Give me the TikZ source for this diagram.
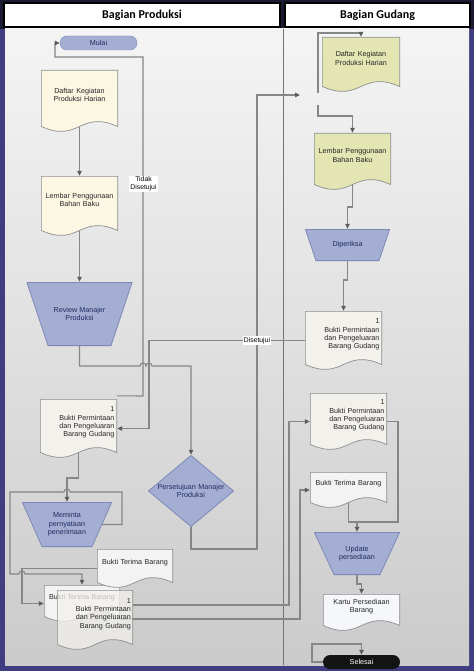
\documentclass[tikz,border=0pt]{standalone}
\usepackage{fontspec}
\setmainfont{Liberation Sans}
\newfontfamily\headfont{Carlito}
\usetikzlibrary{arrows.meta}
\pgfdeclarelayer{back}
\pgfdeclarelayer{wires}
\pgfsetlayers{back,wires,main}

\definecolor{framecol}{HTML}{403E80}
\definecolor{bandcol}{HTML}{1A1A33}
\definecolor{bodytop}{HTML}{F4F4F4}
\definecolor{bodybot}{HTML}{CBCBCB}
\definecolor{wiregray}{HTML}{868686}
\definecolor{tipgray}{HTML}{5C5C5C}
\definecolor{docline}{HTML}{8E8E8E}
\definecolor{cream}{HTML}{FBF7E3}
\definecolor{olive}{HTML}{E3E5B3}
\definecolor{paper}{HTML}{F3F1EC}
\definecolor{paperb}{HTML}{F3F3F3}
\definecolor{kartucol}{HTML}{F5F7FB}
\definecolor{trapfill}{HTML}{A4AED3}
\definecolor{trapline}{HTML}{7D88B8}
\definecolor{traptext}{HTML}{1F2B5E}

\begin{document}
\begin{tikzpicture}[x=1pt, y=-1pt,
    font=\fontsize{7.2}{8.4}\selectfont,
    >={Triangle[length=5pt,width=4.6pt,color=tipgray]},
    wire/.style={draw=wiregray, line width=1.1pt},
    lane/.style={rectangle, draw=black, line width=1.2pt, fill=white,
      minimum height=24pt, font=\headfont\fontsize{12}{14}\selectfont\bfseries},
    term/.style={rectangle, rounded corners=7pt, minimum width=77pt,
      minimum height=14pt, inner sep=0pt},
    tag/.style={fill=white, inner sep=1pt, align=center,
      font=\fontsize{6.8}{7.8}\selectfont},
    doc/.style={rectangle, inner sep=0pt, text width=70pt, align=center,
      text=black!85,
      execute at end node={\endgraf\nointerlineskip\rule{0pt}{12pt}},
      path picture={
        \filldraw[fill=#1, draw=docline, line width=.7pt]
          ([shift={(.35pt,-.35pt)}]path picture bounding box.north west)
          -- ([shift={(-.35pt,-.35pt)}]path picture bounding box.north east)
          -- ([shift={(-.35pt,5.5pt)}]path picture bounding box.south east)
          .. controls ([yshift=22.5pt]path picture bounding box.south)
          and ([yshift=-11.5pt]path picture bounding box.south)
          .. ([shift={(.35pt,5.5pt)}]path picture bounding box.south west)
          -- cycle;}},
    trap/.style={rectangle, inner sep=0pt, align=center, text=traptext,
      path picture={
        \filldraw[fill=trapfill, draw=trapline, line width=.8pt]
          ([shift={(.4pt,-.4pt)}]path picture bounding box.north west)
          -- ([shift={(-.4pt,-.4pt)}]path picture bounding box.north east)
          -- ([shift={(-#1,.4pt)}]path picture bounding box.south east)
          -- ([shift={(#1,.4pt)}]path picture bounding box.south west)
          -- cycle;}},
    dia/.style={rectangle, inner sep=0pt, text width=84pt, align=center,
      text=traptext,
      path picture={
        \filldraw[fill=trapfill, draw=trapline, line width=.8pt]
          ([yshift=-.5pt]path picture bounding box.north)
          -- ([xshift=-.5pt]path picture bounding box.east)
          -- ([yshift=.5pt]path picture bounding box.south)
          -- ([xshift=.5pt]path picture bounding box.west)
          -- cycle;}}]
    \useasboundingbox (0,0) rectangle (474,671);

    % Frame, swimlanes
    \begin{pgfonlayer}{back}
      \fill[framecol] (0,0) rectangle (474,671);
      \fill[bandcol] (0,0) rectangle (474,29);
      \shade[top color=bodytop, bottom color=bodybot] (5,29) rectangle (469,665);
      \draw[black!55, line width=.8pt] (283,29) -- (283,665);
    \end{pgfonlayer}
    \node[lane, minimum width=276pt] (prod) at (142,15) {Bagian Produksi};
    \node[lane, minimum width=185pt] (gud) at (377.5,15) {Bagian Gudang};

    % Bagian Produksi
    \node[term,
          fill=trapfill,
          draw=trapline,
          text=traptext] (mulai) at (98.5,43) {Mulai};
    \node[doc=cream,
          minimum width=77pt,
          minimum height=62pt] (daftarP) at (79.5,101) {Daftar Kegiatan\\Produksi Harian};
    \node[doc=cream,
          minimum width=77pt,
          minimum height=60pt] (lembarP) at (79.5,206) {Lembar Penggunaan\\Bahan Baku};
    \node[trap=21.5pt,
          minimum width=106pt,
          minimum height=64pt] (review) at (79.5,314) {Review Manajer\\Produksi};
    \node[doc=paper,
          align=right,
          text width=72pt,
          minimum width=77pt,
          minimum height=59pt] (buktiP1) at (78.5,428.5)
          {1\\Bukti Permintaan\\dan Pengeluaran\\Barang Gudang};
    \node[dia,
          minimum width=86pt,
          minimum height=72pt] (setuju) at (191,491) {Persetujuan Manajer\\Produksi};
    \node[trap=20pt,
          minimum width=90pt,
          minimum height=45pt] (meminta) at (67,524.5) {Meminta\\pernyataan\\penerimaan};
    \node[doc=paperb,
          minimum width=76pt,
          minimum height=37pt] (terimaB) at (82,603.5) {Bukti Terima Barang};
    \node[doc=paperb,
          minimum width=76pt,
          minimum height=39pt] (terimaP) at (135,568.5) {Bukti Terima Barang};
    \node[doc={paper, fill opacity=.75},
          align=right,
          text width=72pt,
          minimum width=76pt,
          minimum height=60pt] (buktiP2) at (95,620)
          {1\\Bukti Permintaan\\dan Pengeluaran\\Barang Gudang};

    % Bagian Gudang
    \node[doc=olive,
          minimum width=78pt,
          minimum height=55pt] (daftarG) at (361,64.5) {Daftar Kegiatan\\Produksi Harian};
    \node[doc=olive,
          minimum width=77pt,
          minimum height=57pt] (lembarG) at (352.5,161.5) {Lembar Penggunaan\\Bahan Baku};
    \node[trap=11pt,
          minimum width=85pt,
          minimum height=32pt] (periksa) at (347.5,245) {Diperiksa};
    \node[doc=paper,
          align=right,
          text width=72pt,
          minimum width=77pt,
          minimum height=59pt] (buktiG1) at (343.5,340.5)
          {1\\Bukti Permintaan\\dan Pengeluaran\\Barang Gudang};
    \node[doc=paper,
          align=right,
          text width=72pt,
          minimum width=77pt,
          minimum height=57pt] (buktiG2) at (348.5,421.5)
          {1\\Bukti Permintaan\\dan Pengeluaran\\Barang Gudang};
    \node[doc=paperb,
          minimum width=77pt,
          minimum height=36pt] (terimaG) at (348.5,490) {Bukti Terima Barang};
    \node[trap=20pt,
          minimum width=86pt,
          minimum height=43pt] (update) at (357,553.5) {Update\\persediaan};
    \node[doc=kartucol,
          minimum width=77pt,
          minimum height=37pt] (kartu) at (361.5,612.5) {Kartu Persediaan\\Barang};
    \node[term,
          fill=black!92,
          text=white] (selesai) at (361.5,662) {Selesai};

    % Labels on the lines
    \node[tag] (tidak) at (143.5,184) {Tidak\\Disetujui};
    \node[tag] (disetujui) at (257,340.5) {Disetujui};
    \coordinate (ujung) at (300,95);
    \coordinate (atasG) at (318,93);
    \coordinate (bawahG) at (318,105);

    % Connect the shapes
    \begin{pgfonlayer}{wires}
    \draw[wire, ->] (daftarP.center) -- (lembarP.north);
    \draw[wire, ->] (lembarP.center) -- (review.north);
    \draw[wire, ->] (review.south) -- (79.5,366) -- (140,366)
        arc[start angle=180, end angle=0, radius=3pt]
        arc[start angle=180, end angle=0, radius=3pt]
        -- (191,366) -- (setuju.north);
    \draw[wire, ->] ([yshift=3pt]buktiP1.north east) -- (143,396) -- (143,57)
        -- (55,57) |- (mulai.west);
    \draw[wire, ->] (buktiG1.west) -- (149,340.5) |- (buktiP1.east);
    \draw[wire, ->] (buktiP1.center) -- (78.5,478) -| (meminta.north);
    \draw[wire, ->] ([xshift=-10pt]meminta.east) -- (122,524.5) -- (122,492)
        -- (70,492) arc[start angle=0, end angle=180, radius=3pt]
        -- (10,492) -- (10,574) -- (19,574)
        arc[start angle=180, end angle=0, radius=3pt]
        -- (82,574) -- (terimaB.north);
    \draw[wire, ->] (terimaP.west) -- (22,568.5) |- (terimaB.west);
    \draw[wire, ->] (setuju.south) |- (257,549) -- (257,95) -- (ujung);
    \draw[wire, ->] ([yshift=15pt]buktiP2.east) -- (289,605) |- (buktiG2.west);
    \draw[wire, ->] ([yshift=-15.5pt]terimaB.east) -- (300,619) |- (terimaG.west);
    \draw[wire, ->] (atasG) -- (318,33) -| (daftarG.north);
    \draw[wire, ->] (bawahG) -- (318,116) -| (lembarG.north);
    \draw[wire, ->] (lembarG.center) -- (352.5,207) -| (periksa.north);
    \draw[wire, ->] (periksa.south) -- (347.5,280) -| (buktiG1.north);
    \draw[wire, ->] (buktiG2.east) -- (398,421.5) |- (357,522) -- (update.north);
    \draw[wire] (terimaG.center) |- (357,522);
    \draw[wire, ->] (update.south) -- (357,584) -| (kartu.north);
    \draw[wire, ->] (selesai.west) -- (312,662) -- (312,644) -| (selesai.north);
    \end{pgfonlayer}
\end{tikzpicture}
\end{document}
